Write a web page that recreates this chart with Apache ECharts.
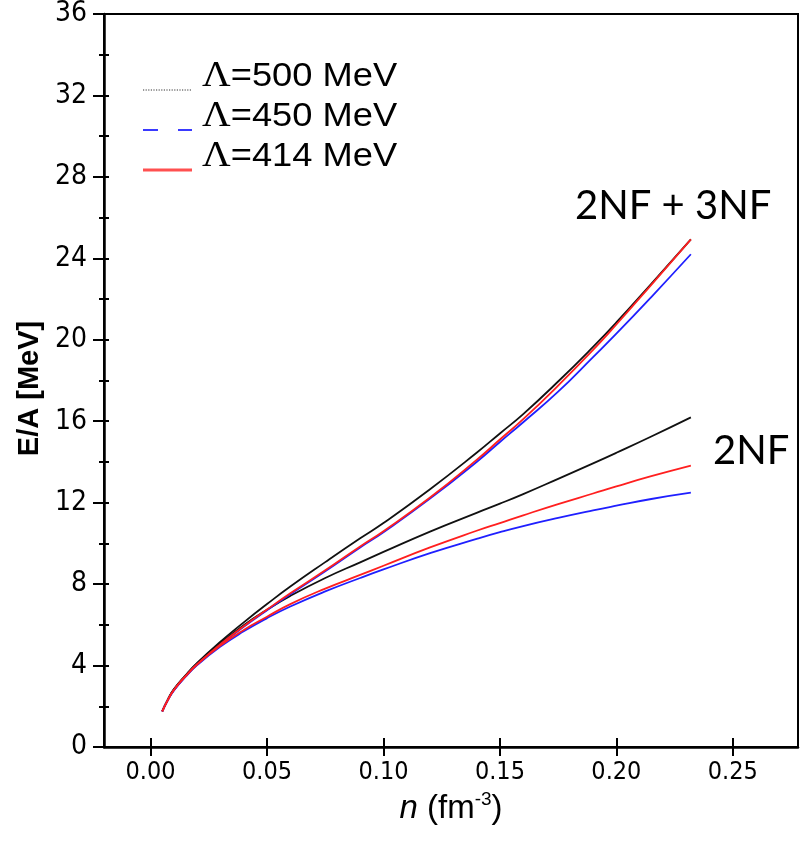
<!DOCTYPE html>
<html>
<head>
<meta charset="utf-8">
<script src="https://cdn.jsdelivr.net/npm/echarts@6/dist/echarts.min.js"></script>
<style>
  html, body { margin: 0; padding: 0; background: #ffffff; }
  #chart { width: 803px; height: 842px; }
</style>
</head>
<body>
<div id="chart"></div>
<script>
// Neutron-matter energy per particle vs. density, three chiral cutoffs.
const density = [0.005, 0.0075, 0.01, 0.015, 0.02, 0.03, 0.04, 0.05, 0.06, 0.075, 0.09,
                 0.10, 0.12, 0.14, 0.15, 0.16, 0.175, 0.19, 0.20, 0.215, 0.232];

// 2NF + 3NF
const e500Full = [1.75, 2.35, 2.83, 3.52, 4.13, 5.17, 6.12, 7.02, 7.88, 9.08, 10.25,
                  11.00, 12.66, 14.45, 15.40, 16.35, 17.95, 19.65, 20.85, 22.75, 24.93];
const e450Full = [1.75, 2.32, 2.78, 3.46, 4.05, 5.02, 5.90, 6.72, 7.50, 8.63, 9.80,
                  10.55, 12.20, 14.00, 14.98, 15.95, 17.45, 19.15, 20.30, 22.10, 24.20];
const e414Full = [1.75, 2.33, 2.80, 3.48, 4.07, 5.05, 5.93, 6.75, 7.55, 8.68, 9.85,
                  10.60, 12.25, 14.10, 15.10, 16.10, 17.75, 19.50, 20.75, 22.70, 24.93];

// 2NF only
const e500Two = [1.75, 2.35, 2.83, 3.50, 4.10, 5.10, 5.98, 6.74, 7.42, 8.30, 9.07,
                 9.58, 10.58, 11.50, 11.95, 12.42, 13.17, 13.93, 14.45, 15.25, 16.19];
const e450Two = [1.75, 2.32, 2.78, 3.45, 4.02, 4.93, 5.68, 6.33, 6.90, 7.64, 8.30,
                 8.72, 9.52, 10.22, 10.55, 10.85, 11.25, 11.62, 11.85, 12.18, 12.49];
const e414Two = [1.75, 2.33, 2.80, 3.47, 4.05, 4.98, 5.75, 6.40, 7.02, 7.78, 8.45,
                 8.90, 9.80, 10.62, 11.00, 11.38, 11.93, 12.45, 12.80, 13.30, 13.82];

const xTickValues = [0, 0.05, 0.10, 0.15, 0.20, 0.25];
const cutoffValues = ['500', '450', '414'];
const curveLabels = ['2NF + 3NF', '2NF'];

const colors = { c500: '#111111', c450: '#1f1fff', c414: '#ff1f1f' };
const pairs = ys => density.map((n, i) => [n, ys[i]]);
const cutoffName = v => '\u039B=' + v + ' MeV';

function curve(name, ys, color) {
  return {
    type: 'line', name: name, data: pairs(ys), smooth: 0.5,
    symbol: 'none', xAxisIndex: 0, yAxisIndex: 0,
    lineStyle: { color: color, width: 1.8 }, itemStyle: { color: color },
    silent: true, animation: false
  };
}

const tickFont = "'Liberation Sans Narrow', 'DejaVu Sans Condensed', 'Liberation Sans', Arial, sans-serif";
const sansFont = "'Liberation Sans', Arial, sans-serif";

const axisX = {
  type: 'value', min: -0.02, max: 0.278, position: 'bottom',
  splitLine: { show: false },
  axisLine: { show: true, onZero: false, lineStyle: { color: '#000', width: 2.5 } }
};
const axisY = {
  type: 'value', min: 0, max: 36, interval: 4, position: 'left',
  splitLine: { show: false },
  axisLine: { show: true, onZero: false, lineStyle: { color: '#000', width: 2.5 } }
};

function legendEntry(i, y) {
  return {
    type: 'text', x: 202, y: y, scaleX: 1.1, originX: 0, originY: 0, z: 10,
    style: {
      text: '{g|\u039B}{t|=' + cutoffValues[i] + ' MeV}',
      verticalAlign: 'middle', align: 'left',
      rich: {
        g: { fontFamily: "'Liberation Serif', 'Times New Roman', serif", fontSize: 36, fill: '#000' },
        t: { fontFamily: sansFont, fontSize: 33, fill: '#000' }
      }
    }
  };
}

const option = {
  backgroundColor: '#ffffff',
  animation: false,
  grid: { left: 104, right: 5, top: 14, bottom: 95, show: true, borderColor: '#000', borderWidth: 2, backgroundColor: 'transparent' },
  xAxis: [
    Object.assign({}, axisX, {
      name: '{i|n} {t|(fm}{s|-3}{t|)}',
      nameLocation: 'middle', nameGap: 31,
      nameTextStyle: {
        fontFamily: sansFont, fontSize: 33, color: '#000', lineHeight: 38,
        rich: {
          i: { fontStyle: 'italic', fontFamily: sansFont, fontSize: 33, color: '#000', lineHeight: 38 },
          t: { fontFamily: sansFont, fontSize: 33, color: '#000', lineHeight: 38 },
          s: { fontFamily: sansFont, fontSize: 19, color: '#000', verticalAlign: 'top', lineHeight: 24 }
        }
      },
      axisTick: { show: true, customValues: xTickValues, length: 9, inside: false, lineStyle: { color: '#000', width: 2 } },
      axisLabel: {
        show: true, customValues: xTickValues, margin: 13,
        formatter: v => v.toFixed(2),
        fontFamily: tickFont, fontSize: 25, color: '#000'
      }
    }),
    Object.assign({}, axisX, {
      axisLine: { show: false, onZero: false },
      axisTick: { show: true, customValues: xTickValues, length: 9, inside: true, lineStyle: { color: '#000', width: 2 } },
      axisLabel: { show: false }
    })
  ],
  yAxis: [
    Object.assign({}, axisY, {
      name: 'E/A [MeV]', nameLocation: 'middle', nameGap: 45,
      nameTextStyle: { fontFamily: sansFont, fontWeight: 'bold', fontSize: 29, color: '#000', padding: [0, 16, 0, 0] },
      axisTick: { show: true, length: 11, inside: false, lineStyle: { color: '#000', width: 2 } },
      minorTick: { show: true, splitNumber: 2, length: 5, lineStyle: { color: '#000', width: 2 } },
      axisLabel: { show: true, margin: 17, fontFamily: tickFont, fontSize: 28, color: '#000' }
    }),
    Object.assign({}, axisY, {
      axisLine: { show: false, onZero: false },
      axisTick: { show: true, length: 5, inside: true, lineStyle: { color: '#000', width: 2 } },
      minorTick: { show: true, splitNumber: 2, length: 5, lineStyle: { color: '#000', width: 2 } },
      axisLabel: { show: false }
    })
  ],
  series: [
    curve(cutoffName(cutoffValues[0]), e500Two, colors.c500),
    curve(cutoffName(cutoffValues[0]), e500Full, colors.c500),
    curve(cutoffName(cutoffValues[1]), e450Two, colors.c450),
    curve(cutoffName(cutoffValues[1]), e450Full, colors.c450),
    curve(cutoffName(cutoffValues[2]), e414Two, colors.c414),
    curve(cutoffName(cutoffValues[2]), e414Full, colors.c414)
  ],
  graphic: [
    // legend samples
    { type: 'line', shape: { x1: 143, y1: 90, x2: 192, y2: 90 }, style: { stroke: '#333', lineWidth: 1, lineDash: [1.2, 1.4] }, z: 10 },
    { type: 'line', shape: { x1: 143, y1: 130, x2: 192, y2: 130 }, style: { stroke: '#3a3aff', lineWidth: 2, lineDash: [15, 20] }, z: 10 },
    { type: 'line', shape: { x1: 143, y1: 170, x2: 192, y2: 170 }, style: { stroke: '#ff5050', lineWidth: 3 }, z: 10 },
    legendEntry(0, 77),
    legendEntry(1, 117),
    legendEntry(2, 157),
    // curve group labels
    { type: 'text', x: 575, y: 206, z: 10,
      style: { text: curveLabels[0], fill: '#000', fontFamily: "Lato, 'Open Sans', sans-serif", fontSize: 40, verticalAlign: 'middle', align: 'left' } },
    { type: 'text', x: 713, y: 451, z: 10,
      style: { text: curveLabels[1], fill: '#000', fontFamily: "Lato, 'Open Sans', sans-serif", fontSize: 40, verticalAlign: 'middle', align: 'left' } }
  ]
};

const chart = echarts.init(document.getElementById('chart'), null, { renderer: 'canvas' });
chart.setOption(option);
</script>
</body>
</html>
